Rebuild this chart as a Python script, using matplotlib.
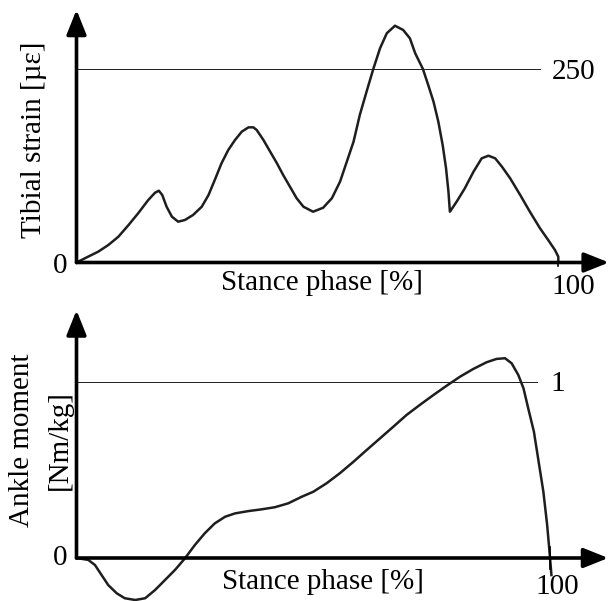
import matplotlib.pyplot as plt

plt.rcParams['font.family'] = ['Liberation Serif', 'DejaVu Serif']

# top panel: tibial strain over stance phase
strain_x = [0, 2.4, 4.5, 6.6, 8.7, 10.8, 12.8, 14.9, 16.3, 17.1, 17.8, 18.7, 19.8, 21.1,
            22.5, 24.2, 26.0, 27.4, 28.7, 30.1, 31.5, 32.9, 34.3, 35.7, 36.7, 37.4, 38.8,
            40.2, 41.6, 42.9, 44.3, 45.7, 47.1, 49.1, 51.2, 53.0, 54.7, 56.1, 57.5, 58.8,
            60.2, 61.6, 63.0, 64.4, 66.1, 67.8, 69.2, 70.3, 71.9, 73.0, 74.1, 75.1, 76.0,
            76.7, 77.2, 77.5, 78.9, 80.6, 82.4, 84.1, 85.5, 86.9, 88.3, 90.0, 92.1, 94.1,
            96.2, 97.9, 99.3, 100, 100]
strain_y = [0, 7.5, 14.0, 22.6, 33.4, 48.5, 63.7, 80.9, 90.3, 92.9, 87.3, 72.2, 59.3, 52.8,
            55.0, 61.5, 72.2, 87.3, 106.8, 128.4, 145.6, 158.5, 169.3, 174.9, 174.9, 171.5, 158.5,
            143.4, 128.4, 113.2, 98.1, 83.1, 72.2, 65.7, 70.9, 83.1, 104.6, 130.4, 156.3, 190.9,
            221.0, 250.4, 277.2, 296.6, 306.4, 300.9, 290.1, 270.7, 250.4, 229.7, 208.1, 182.2, 152.0,
            121.9, 91.6, 65.7, 78.7, 96.0, 117.5, 134.8, 138.2, 134.8, 124.0, 109.0, 87.3, 65.7,
            44.3, 29.1, 16.2, 7.5, 0]
strain_ref = 250

# bottom panel: ankle moment over stance phase
moment_x = [0, 2.5, 3.9, 5.3, 6.7, 8.5, 10.2, 12.4, 14.5, 16.6, 18.7, 20.8, 22.9, 25.0,
            27.1, 29.2, 31.4, 33.5, 36.3, 39.1, 41.9, 44.7, 47.6, 50.0, 52.8, 55.6, 58.5,
            61.3, 64.1, 66.9, 69.7, 72.5, 75.4, 78.2, 81.0, 83.8, 86.6, 88.7, 90.5, 91.9,
            93.3, 94.4, 95.4, 96.6, 97.6, 98.6, 99.4, 100, 100.3]
moment_y = [0, -0.011, -0.040, -0.097, -0.154, -0.201, -0.229, -0.239, -0.229, -0.182, -0.125,
            -0.068, -0.002, 0.074, 0.141, 0.197, 0.235, 0.254, 0.267, 0.277, 0.289, 0.311,
            0.349, 0.377, 0.425, 0.482, 0.548, 0.615, 0.681, 0.747, 0.814, 0.871, 0.928,
            0.981, 1.032, 1.076, 1.114, 1.133, 1.137, 1.108, 1.042, 0.966, 0.852, 0.719,
            0.548, 0.377, 0.188, 0.004, -0.097]
moment_ref = 1

W, H = 610, 601
fig = plt.figure(figsize=(6.1, 6.01), dpi=100)


def px_axes(x0, x1, y0, y1):
    # axes whose data box spans the given pixel corners
    return fig.add_axes([x0 / W, 1 - y0 / H, (x1 - x0) / W, (y0 - y1) / H])


def arrows(ax, xmax, ymax):
    kw = dict(arrowstyle='-|>,head_length=1.5,head_width=0.6', color='black', lw=2.6,
              shrinkA=0, shrinkB=0)
    ax.annotate('', xy=(xmax, 0), xytext=(0, 0), arrowprops=kw, annotation_clip=False)
    ax.annotate('', xy=(0, ymax), xytext=(0, 0), arrowprops=kw, annotation_clip=False)


fs = 21
ink = '#1e1e1e'
line_kw = dict(color=ink, lw=1.8, clip_on=False, solid_joinstyle='round')

# ---- top
ax1 = px_axes(76.5, 558.3, 262.5, 69.3)
ax1.set_xlim(0, 100)
ax1.set_ylim(0, strain_ref)
ax1.axis('off')
ax1.plot(strain_x, strain_y, **line_kw)
ax1.plot([0, 96.2], [strain_ref, strain_ref], color=ink, lw=1.4)
arrows(ax1, 110.5, 327)
ax1.plot([100, 100], [0, -5], color='black', lw=1.2, clip_on=False)
ax1.text(-3.5, -4, '0', fontsize=fs, ha='center', va='center')
ax1.text(103.1, strain_ref - 3, '250', fontsize=fs, ha='center', va='center')
ax1.text(103.0, -32, '100', fontsize=fs, ha='center', va='center')
ax1.text(51, -26.5, 'Stance phase [%]', fontsize=fs, ha='center', va='center')
ax1.text(-8.8, 158.5, 'Tibial strain [µε]', fontsize=fs, ha='center', va='center',
         rotation=90)

# ---- bottom
ax2 = px_axes(76.5, 550, 558, 382.3)
ax2.set_xlim(0, 100)
ax2.set_ylim(0, moment_ref)
ax2.axis('off')
ax2.plot(moment_x, moment_y, **line_kw)
ax2.plot([0, 97.3], [moment_ref, moment_ref], color=ink, lw=1.4)
arrows(ax2, 112.3, 1.41)
ax2.plot([100, 100], [0.06, -0.06], color='black', lw=1.2, clip_on=False)
ax2.text(-3.5, 0.0, '0', fontsize=fs, ha='center', va='center')
ax2.text(101.7, moment_ref - 0.01, '1', fontsize=fs, ha='center', va='center')
ax2.text(101.5, -0.163, '100', fontsize=fs, ha='center', va='center')
ax2.text(52, -0.137, 'Stance phase [%]', fontsize=fs, ha='center', va='center')
ax2.text(-11.5, 0.67, 'Ankle moment', fontsize=fs, ha='center', va='center', rotation=90)
ax2.text(-3.6, 0.67, '[Nm/kg]', fontsize=fs, ha='center', va='center', rotation=90)

fig.savefig('out.png', dpi=100)
